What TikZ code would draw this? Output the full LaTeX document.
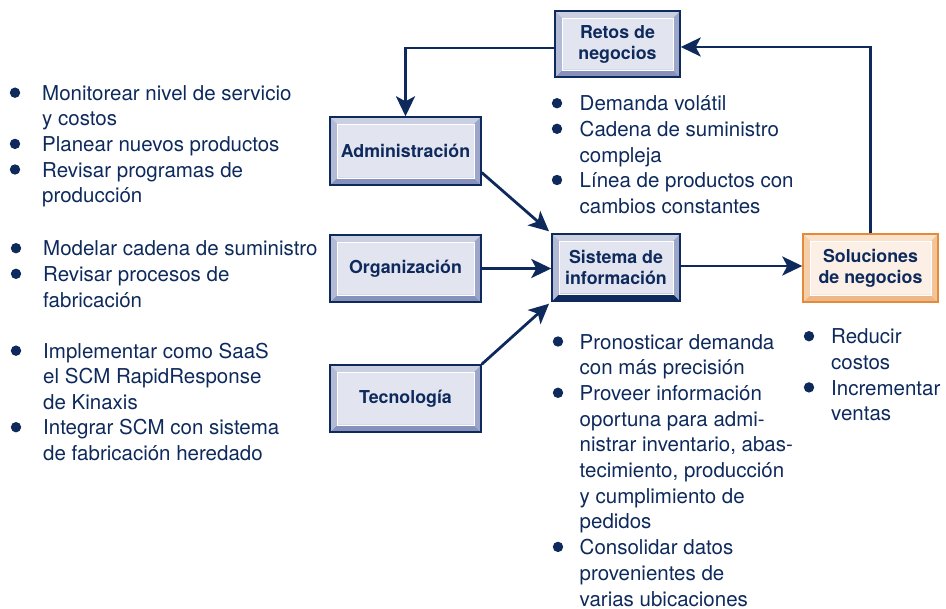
\documentclass[tikz,border=0pt]{standalone}
\usepackage{fontspec}
\setmainfont{TeX Gyre Heros}
\usetikzlibrary{arrows.meta,calc}
\definecolor{navy}{HTML}{0E2A5C}
\definecolor{bpanel}{HTML}{E2E5EF}
\definecolor{btop}{HTML}{CACFE2}
\definecolor{bleft}{HTML}{B2BAD5}
\definecolor{bright}{HTML}{9CA6C9}
\definecolor{bbot}{HTML}{8792BC}
\definecolor{oborder}{HTML}{E38B3A}
\definecolor{opanel}{HTML}{FCEFE6}
\definecolor{otop}{HTML}{FBE2CB}
\definecolor{oleft}{HTML}{F5CFAA}
\definecolor{oright}{HTML}{F2C497}
\definecolor{obot}{HTML}{EDB787}
\newcommand{\bw}{7pt}
\newcommand{\bevelpaint}[4]{%
  \coordinate (bA) at (path picture bounding box.south west);
  \coordinate (bB) at (path picture bounding box.north east);
  \fill[#1] (bA |- bB) -- (bB) -- ($(bB)+(-\bw,-\bw)$) -- ($(bA |- bB)+(\bw,-\bw)$) -- cycle;
  \fill[#4] (bA) -- (bB |- bA) -- ($(bB |- bA)+(-\bw,\bw)$) -- ($(bA)+(\bw,\bw)$) -- cycle;
  \fill[#2] (bA) -- (bA |- bB) -- ($(bA |- bB)+(\bw,-\bw)$) -- ($(bA)+(\bw,\bw)$) -- cycle;
  \fill[#3] (bB |- bA) -- (bB) -- ($(bB)+(-\bw,-\bw)$) -- ($(bB |- bA)+(-\bw,\bw)$) -- cycle;
  \draw[white,line width=0.8pt] ($(bA)+(\bw,\bw)$) rectangle ($(bB)+(-\bw,-\bw)$);
}
\tikzset{
  boxbase/.style={rectangle, line width=1.4pt, align=center, text=navy, inner sep=0pt,
    font=\bfseries\fontsize{17.8}{21}\selectfont},
  bluebox/.style={boxbase, draw=navy, fill=bpanel,
    path picture={\bevelpaint{btop}{bleft}{bright}{bbot}}},
  sisbox/.style={boxbase, draw=navy, fill=bpanel,
    path picture={\bevelpaint{btop}{bleft}{bright}{navy}}},
  orangebox/.style={boxbase, draw=oborder, fill=opanel,
    path picture={\bevelpaint{otop}{oleft}{oright}{obot}}},
  txt/.style={anchor=base west, inner sep=0pt, text=navy, font=\fontsize{20.5}{25.6}\selectfont},
  bul/.style={fill=navy},
  arr/.style={draw=navy, line width=2.8pt, -{Stealth[length=20pt,width=19pt,inset=5pt]}}
}
\begin{document}
\begin{tikzpicture}[x=1pt,y=-1pt]
\useasboundingbox (0,0) rectangle (946,609);

% boxes
\node[bluebox, minimum width=125pt, minimum height=66pt] (retos) at (617.5,44) {Retos de\\negocios};
\node[bluebox, minimum width=151pt, minimum height=68pt] (admin) at (405.5,151) {Administración};
\node[bluebox, minimum width=151pt, minimum height=67pt] (org) at (405.5,268.5) {Organización};
\node[bluebox, minimum width=151pt, minimum height=67pt] (tec) at (405.5,398.5) {Tecnología};
\node[sisbox, minimum width=128pt, minimum height=67pt] (sis) at (616,267.5) {Sistema de\\información};
\node[orangebox, minimum width=135pt, minimum height=68pt] (sol) at (870.5,268) {Soluciones\\de negocios};

% connectors
\draw[arr] ([yshift=-4pt]retos.west) -| (admin.north);
\draw[arr] (sol.north) |- ([yshift=-3pt]retos.east);
\draw[arr, shorten >=3pt] ([yshift=-21.5pt]admin.east) -- (sis.north west);
\draw[arr] (org.east) -- (org.east -| sis.west);
\draw[arr, shorten >=3pt] (tec.north east) -- (sis.south west);
\draw[arr] ([yshift=1.5pt]sis.east) -- ([yshift=1.5pt]sis.east -| sol.west);

% left lists
\foreach \y/\t [count=\i] in {100.5/{Monitorear nivel de servicio}, 126/{y costos}, 151.7/{Planear nuevos productos}, 177.3/{Revisar programas de}, 203/{producción}}
  \node[txt] (La\i) at (42,\y) {\t};
\foreach \y/\t [count=\i] in {256/{Modelar cadena de suministro}, 281.6/{Revisar procesos de}, 307.2/{fabricación}}
  \node[txt] (Lb\i) at (43,\y) {\t};
\foreach \y/\t [count=\i] in {358.5/{Implementar como SaaS}, 384/{el SCM RapidResponse}, 409.5/{de Kinaxis}, 435/{Integrar SCM con sistema}, 460.5/{de fabricación heredado}}
  \node[txt] (Lc\i) at (43,\y) {\t};
% retos list
\foreach \y/\t [count=\i] in {111/{Demanda volátil}, 136.6/{Cadena de suministro}, 162.2/{compleja}, 187.8/{Línea de productos con}, 213.4/{cambios constantes}}
  \node[txt] (R\i) at (579.5,\y) {\t};
% sistema list
\foreach \y/\t [count=\i] in {349.3/{Pronosticar demanda}, 375/{con más precisión}, 400.6/{Proveer información}, 426.3/{oportuna para admi-}, 452/{nistrar inventario, abas-}, 477.7/{tecimiento, producción}, 503.3/{y cumplimiento de}, 529/{pedidos}, 554.7/{Consolidar datos}, 580.3/{provenientes de}, 606/{varias ubicaciones}}
  \node[txt] (S\i) at (579.5,\y) {\t};
% soluciones list
\foreach \y/\t [count=\i] in {344/{Reducir}, 369.6/{costos}, 395.2/{Incrementar}, 421/{ventas}}
  \node[txt] (V\i) at (831,\y) {\t};

% bullets
\foreach \y in {100.5,151.7,177.3} \fill[bul] (15,{\y-7.8}) circle (5.2pt);
\foreach \y in {256,281.6,358.5,435} \fill[bul] (16,{\y-7.8}) circle (5.2pt);
\foreach \y in {111,136.6,187.8} \fill[bul] (557,{\y-7.8}) circle (5.2pt);
\foreach \y in {349.3,400.6,554.7} \fill[bul] (558,{\y-7.8}) circle (5.2pt);
\foreach \y in {344,395.2} \fill[bul] (809,{\y-7.8}) circle (5.2pt);
\end{tikzpicture}
\end{document}
